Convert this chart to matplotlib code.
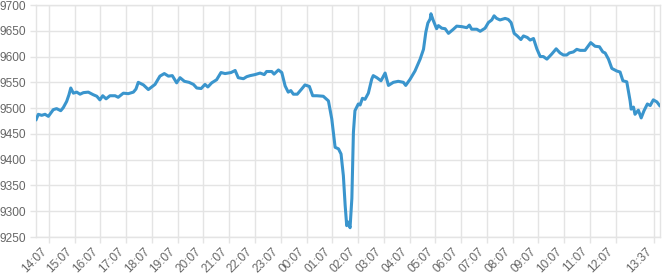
"""Intraday line chart, 24h window starting 13:37."""
import matplotlib
matplotlib.use("Agg")
import matplotlib.pyplot as plt  # noqa: E402

# hours elapsed since 13:37 on the first day, and the value at that time
HOURS = [
    0.00, 0.09, 0.22, 0.35, 0.48, 0.67, 0.80, 0.96, 1.06, 1.19, 1.28, 1.35,
    1.45, 1.58, 1.71, 1.84, 2.03, 2.22, 2.36, 2.48, 2.59, 2.72, 2.87, 3.07,
    3.19, 3.39, 3.58, 3.78, 3.88, 3.97, 4.17, 4.36, 4.62, 4.81, 4.98, 5.14,
    5.29, 5.46, 5.59, 5.76, 5.94, 6.11, 6.24, 6.41, 6.56, 6.67, 6.82, 7.01,
    7.18, 7.34, 7.57, 7.73, 7.85, 8.05, 8.18, 8.31, 8.50, 8.70, 8.86, 8.95,
    9.15, 9.24, 9.41, 9.54, 9.67, 9.79, 9.89, 9.99, 10.14, 10.31, 10.44, 10.61,
    10.74, 10.90, 11.15, 11.35, 11.48, 11.61, 11.74, 11.84, 11.93, 12.00, 12.06,
    12.12, 12.19, 12.26, 12.32, 12.38, 12.51, 12.58, 12.67, 12.77, 12.90, 13.03,
    13.09, 13.23, 13.39, 13.55, 13.68, 13.87, 14.06, 14.26, 14.35, 14.52, 14.71,
    14.91, 15.04, 15.13, 15.21, 15.30, 15.33, 15.42, 15.55, 15.62, 15.75, 15.88,
    16.01, 16.20, 16.33, 16.53, 16.72, 16.82, 16.91, 17.11, 17.24, 17.43, 17.56,
    17.69, 17.78, 17.88, 18.01, 18.21, 18.33, 18.44, 18.56, 18.68, 18.82, 18.92,
    19.07, 19.18, 19.31, 19.44, 19.57, 19.69, 19.83, 20.02, 20.19, 20.34, 20.47,
    20.60, 20.70, 20.86, 20.99, 21.12, 21.31, 21.53, 21.70, 21.87, 22.00, 22.09,
    22.22, 22.35, 22.54, 22.67, 22.78, 22.93, 23.06, 23.10, 23.19, 23.25, 23.38,
    23.49, 23.60, 23.73, 23.84, 23.96, 24.10, 24.22,
]
PRICE = [
    9477, 9488, 9486, 9488, 9484, 9497, 9499, 9495, 9501, 9513, 9526, 9539,
    9529, 9531, 9527, 9530, 9531, 9526, 9523, 9516, 9524, 9518, 9524, 9524,
    9521, 9529, 9528, 9531, 9537, 9550, 9545, 9536, 9546, 9562, 9567, 9562,
    9563, 9549, 9559, 9552, 9550, 9546, 9539, 9538, 9546, 9541, 9549, 9555,
    9569, 9567, 9569, 9573, 9559, 9557, 9561, 9563, 9565, 9568, 9565, 9571,
    9571, 9566, 9574, 9569, 9543, 9531, 9534, 9527, 9527, 9537, 9545, 9542,
    9524, 9524, 9523, 9514, 9479, 9424, 9421, 9411, 9369, 9311, 9272,
    9279, 9268, 9325, 9453, 9495, 9508, 9506, 9519, 9517, 9529, 9556,
    9563, 9559, 9553, 9568, 9544, 9550, 9552, 9550, 9544, 9556, 9572,
    9595, 9614, 9647, 9665, 9673, 9683, 9670, 9654, 9660, 9655, 9654,
    9645, 9653, 9659, 9658, 9656, 9661, 9653, 9653, 9649, 9655, 9666,
    9671, 9679, 9674, 9671, 9674, 9672, 9666, 9645, 9640, 9633, 9640,
    9637, 9632, 9635, 9615, 9600, 9600, 9595, 9605, 9615, 9607, 9603,
    9603, 9607, 9609, 9614, 9612, 9612, 9627, 9620, 9619, 9609, 9607,
    9595, 9577, 9572, 9570, 9553, 9551, 9514, 9498, 9502, 9488, 9496,
    9481, 9495, 9508, 9505, 9516, 9512, 9504,
]

TICK_HOURS = [h + 0.5 for h in range(23)] + [24.0]
TICK_LABELS = [f"{(14 + i) % 24:02d}:07" for i in range(23)] + ["13:37"]
Y_TICKS = list(range(9250, 9701, 50))

GRID = "#e4e4e4"
TEXT = "#666666"
LINE = "#3a95cd"


def main() -> None:
    plt.rcParams["font.family"] = ["Liberation Sans", "DejaVu Sans"]
    fig = plt.figure(figsize=(6.65, 2.8), dpi=100)
    ax = fig.add_axes([36 / 665, 1 - 237 / 280, 624 / 665, 232 / 280])

    ax.plot(HOURS, PRICE, color=LINE, lw=2.2, solid_joinstyle="round",
            solid_capstyle="round", zorder=3)

    ax.set_xlim(0, 24.22)
    ax.set_ylim(9250, 9700)
    ax.set_yticks(Y_TICKS)
    ax.set_xticks(TICK_HOURS)
    ax.set_xticklabels(TICK_LABELS, rotation=45, ha="right", va="top")
    ax.grid(True, color=GRID, lw=1, zorder=0)
    ax.tick_params(axis="both", colors=GRID, labelcolor=TEXT, labelsize=8.6,
                   length=4, width=1)
    ax.tick_params(axis="x", pad=2)
    for s in ax.spines.values():
        s.set_color(GRID)
        s.set_linewidth(1)

    fig.savefig("out.png", dpi=100)


if __name__ == "__main__":
    main()
